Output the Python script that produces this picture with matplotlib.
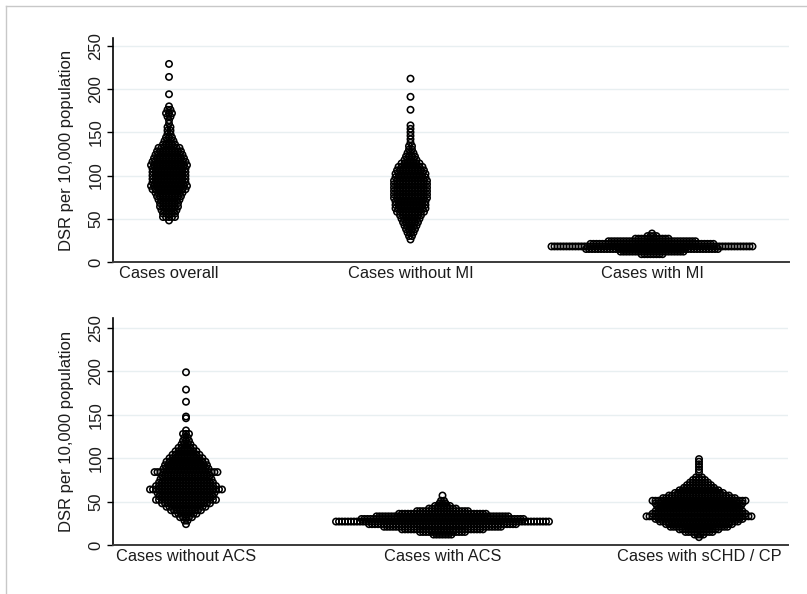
import numpy as np
import matplotlib
matplotlib.use("Agg")
import matplotlib.pyplot as plt
from matplotlib.lines import Line2D

plt.rcParams["font.family"] = ["Liberation Sans", "DejaVu Sans"]

# ── data: dot rows (row value, number of dots in row) ──
top_labels = ["Cases overall", "Cases without MI", "Cases with MI"]
bottom_labels = ["Cases without ACS", "Cases with ACS", "Cases with sCHD / CP"]

overall_vals = [48, 52, 56, 60, 64, 68, 72, 76, 80, 84, 88, 92, 96, 100, 104,
                108, 112, 116, 120, 124, 128, 132, 136, 140, 144, 148, 152,
                156, 160, 164, 168, 172, 176, 180, 194, 214, 229]
overall_counts = [1, 5, 5, 6, 7, 7, 8, 9, 10, 12, 13, 12, 12, 12, 12,
                  12, 13, 12, 11, 10, 9, 8, 5, 4, 3, 2, 2,
                  2, 1, 1, 2, 3, 2, 1, 1, 1, 1]

nomi_vals = [26, 30, 34, 38, 42, 46, 50, 54, 58, 62, 66, 70, 74, 78, 82, 86,
             90, 94, 98, 102, 106, 110, 114, 118, 122, 126, 130, 134, 138,
             142, 146, 150, 154, 158, 176, 191, 212]
nomi_counts = [1, 2, 3, 4, 5, 6, 7, 8, 10, 11, 11, 11, 12, 12, 12, 12,
               12, 12, 11, 11, 10, 9, 7, 5, 4, 3, 2, 2, 1,
               1, 1, 1, 1, 1, 1, 1, 1]

mi_vals = [9, 12, 15, 18, 21, 24, 27, 30, 33]
mi_counts = [8, 22, 45, 68, 42, 30, 12, 4, 1]

noacs_vals = [24, 28, 32, 36, 40, 44, 48, 52, 56, 60, 64, 68, 72, 76, 80, 84,
              88, 92, 96, 100, 104, 108, 112, 116, 120, 124, 128, 132, 146,
              148, 165, 179, 199]
noacs_counts = [1, 2, 5, 8, 11, 14, 17, 21, 19, 20, 25, 21, 19, 18, 17, 22,
                16, 15, 14, 12, 10, 8, 6, 4, 3, 2, 3, 1, 1,
                1, 1, 1, 1]

acs_vals = [12, 15, 18, 21, 24, 27, 30, 33, 36, 39, 42, 45, 48, 51, 57]
acs_counts = [7, 16, 28, 40, 50, 72, 55, 45, 30, 18, 10, 6, 3, 2, 1]

schd_vals = [9, 12, 15, 18, 21, 24, 27, 30, 33, 36, 39, 42, 45, 48, 51, 54,
             57, 60, 63, 66, 69, 72, 75, 78, 84, 87, 90, 93, 96, 99]
schd_counts = [1, 4, 10, 14, 20, 23, 27, 30, 36, 32, 30, 28, 29, 30, 32, 25,
               21, 17, 14, 11, 9, 7, 5, 3, 1, 1, 1, 1, 1, 1]

top_groups = [(overall_vals, overall_counts), (nomi_vals, nomi_counts),
              (mi_vals, mi_counts)]
bottom_groups = [(noacs_vals, noacs_counts), (acs_vals, acs_counts),
                 (schd_vals, schd_counts)]

yticks = [0, 50, 100, 150, 200, 250]

W, H = 807, 594
TEXT = "#1C1C1C"
GRID = "#E8EFF1"


def dot_xy(center, vals, counts, dx):
    xs, ys = [], []
    for v, n in zip(vals, counts):
        off = (np.arange(n) - (n - 1) / 2.0) * dx
        xs.extend(center + off)
        ys.extend([v] * n)
    return np.array(xs), np.array(ys)


def draw_panel(ax, groups, labels, xlim, ytop, px_per_unit):
    dx = 3.0 / px_per_unit
    for i, (vals, counts) in enumerate(groups):
        x, y = dot_xy(i + 1, vals, counts, dx)
        ax.scatter(x, y, s=21, facecolors="none", edgecolors="black",
                   linewidths=1.15, zorder=3)
    ax.set_xlim(*xlim)
    ax.set_ylim(0, ytop)
    ax.set_yticks(yticks)
    ax.set_yticklabels([str(t) for t in yticks], rotation=90, va="center",
                       fontsize=12, color=TEXT)
    ax.set_xticks([1, 2, 3])
    ax.set_xticklabels(labels, fontsize=11.8, color=TEXT)
    ax.tick_params(axis="x", length=0, pad=3)
    ax.tick_params(axis="y", length=4, width=1, pad=3, color="black")
    for t in yticks[1:]:
        ax.axhline(t, color=GRID, lw=1, zorder=1)
    ax.spines["top"].set_visible(False)
    ax.spines["right"].set_visible(False)
    ax.spines["left"].set_linewidth(1.2)
    ax.spines["bottom"].set_linewidth(1.4)
    ax.spines["bottom"].set_color("#3A3A3A")
    ax.set_ylabel("DSR per 10,000 population", fontsize=12, color=TEXT,
                  labelpad=10)


fig = plt.figure(figsize=(W / 100, H / 100), dpi=100)

ax1 = fig.add_axes([113 / W, (H - 262) / H, 676 / W, 224 / H])
draw_panel(ax1, top_groups, top_labels,
           (1 - 56 / 241.5, 3 + 137 / 241.5), 259, 241.5)

ax2 = fig.add_axes([113 / W, (H - 545) / H, 675 / W, 227 / H])
draw_panel(ax2, bottom_groups, bottom_labels,
           (1 - 73 / 256.5, 3 + 89 / 256.5), 261.5, 256.5)

# light outer frame (left and top edges)
fig.add_artist(Line2D([6 / W, 6 / W], [0, 1 - 6 / H], color="#C8C8C8",
                      lw=1, transform=fig.transFigure))
fig.add_artist(Line2D([6 / W, 1], [1 - 6 / H, 1 - 6 / H], color="#C8C8C8",
                      lw=1, transform=fig.transFigure))

fig.savefig("out.png", dpi=100, facecolor="white")
